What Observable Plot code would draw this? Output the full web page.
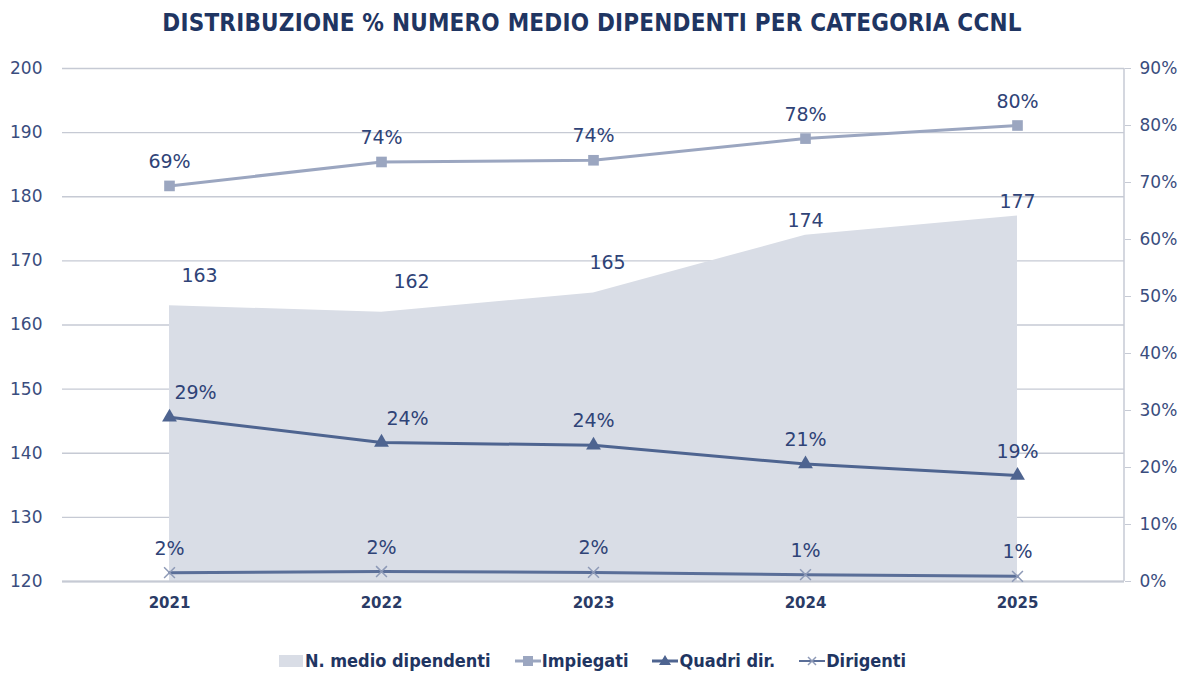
<!DOCTYPE html>
<html><head><meta charset="utf-8">
<script src="https://cdn.jsdelivr.net/npm/d3@7"></script>
<script src="https://cdn.jsdelivr.net/npm/@observablehq/plot@0.6"></script>
<style>
body{margin:0;background:#fff;width:1184px;height:673px;overflow:hidden;font-family:"DejaVu Sans",sans-serif;position:relative}
#title{height:48px;line-height:46px;text-align:center;font-family:"DejaVu Sans Condensed","Liberation Sans Narrow",sans-serif;font-weight:bold;font-size:24px;color:#1f3562;letter-spacing:0.2px}
#chart{height:592px}
#legend{position:absolute;top:650px;left:0;width:1184px;display:flex;justify-content:center;gap:24px;font-family:"DejaVu Sans Condensed","Liberation Sans Narrow",sans-serif;font-size:18px;font-weight:600;color:#1f3562;align-items:center}
.item{display:flex;align-items:center}
.item svg{margin-right:1px}
</style></head>
<body>
<div id="title">DISTRIBUZIONE % NUMERO MEDIO DIPENDENTI PER CATEGORIA CCNL</div>
<div id="chart"></div>
<div id="legend"></div>
<script>
const years = ["2021", "2022", "2023", "2024", "2025"];
const dipendenti = [163, 162, 165, 174, 177];
const impiegati = [69.4, 73.6, 73.9, 77.7, 80.0];
const quadri = [28.8, 24.4, 23.9, 20.6, 18.6];
const dirigenti = [1.55, 1.75, 1.6, 1.2, 0.9];
const leftTicks = [120, 130, 140, 150, 160, 170, 180, 190, 200];
const pctTicks = [0, 10, 20, 30, 40, 50, 60, 70, 80, 90];
const seriesNames = ["N. medio dipendenti", "Impiegati", "Quadri dir.", "Dirigenti"];

const cArea = "#d9dde6", cImp = "#9ba6c0", cQua = "#4e6490", cDir = "#5a6e98", cDirM = "#8e9ab7";
const cText = "#2f4377", cGrid = "#c6cad4", cTick = "#3a4d7e";

const rows = years.map((y, i) => ({year: y, dip: dipendenti[i], imp: impiegati[i], qua: quadri[i], dir: dirigenti[i]}));
const toLeft = p => 120 + p * 80 / 90;
const fromLeft = v => Math.round((v - 120) * 90 / 80);
const pct = v => Math.round(v) + "%";

const rightLine = (index, scales, values, dims) => {
  const x = dims.width - dims.marginRight;
  const l = document.createElementNS("http://www.w3.org/2000/svg", "line");
  l.setAttribute("x1", x); l.setAttribute("x2", x);
  l.setAttribute("y1", dims.marginTop); l.setAttribute("y2", dims.height - dims.marginBottom);
  l.setAttribute("stroke", cGrid); l.setAttribute("stroke-width", 1.5);
  return l;
};

const lbl = {fill: cText, fontSize: 19, fontWeight: 400};

const chart = Plot.plot({
  width: 1184, height: 592,
  marginLeft: 62, marginRight: 60, marginTop: 20, marginBottom: 59,
  x: {type: "point", domain: years, padding: 0.5, label: null},
  y: {domain: [120, 200], label: null},
  style: {fontFamily: "DejaVu Sans, sans-serif", fontSize: "17px", color: cTick, background: "white", overflow: "visible"},
  marks: [
    Plot.gridY(leftTicks, {stroke: cGrid, strokeOpacity: 1, strokeWidth: 1.3}),
    Plot.areaY(rows, {x: "year", y1: 120, y2: "dip", fill: cArea}),
    Plot.ruleY([120], {stroke: cGrid, strokeWidth: 2}),
    rightLine,
    Plot.axisY({ticks: leftTicks, tickSize: 0, tickPadding: 20, fill: cTick, fontSize: 17, fontWeight: 400, label: null}),
    Plot.axisY(pctTicks.map(toLeft), {anchor: "right", tickSize: 6, tickPadding: 9, stroke: cGrid, tickFormat: v => fromLeft(v) + "%", fill: cTick, fontSize: 17, fontWeight: 400, label: null}),
    Plot.axisX({tickSize: 0, tickPadding: 16, fontSize: 15, fontWeight: 600, fill: "#2a3b66", label: null}),
    // series
    Plot.line(rows, {x: "year", y: d => toLeft(d.dir), stroke: cDir, strokeWidth: 3}),
    Plot.dot(rows, {x: "year", y: d => toLeft(d.dir), symbol: "times", r: 5, stroke: cDirM, strokeWidth: 1.5}),
    Plot.line(rows, {x: "year", y: d => toLeft(d.qua), stroke: cQua, strokeWidth: 3}),
    Plot.dot(rows, {x: "year", y: d => toLeft(d.qua), symbol: "triangle", r: 5.5, fill: cQua, stroke: null}),
    Plot.line(rows, {x: "year", y: d => toLeft(d.imp), stroke: cImp, strokeWidth: 3}),
    Plot.dot(rows, {x: "year", y: d => toLeft(d.imp), symbol: "square", r: 6, fill: cImp, stroke: null}),
    // labels
    Plot.text(rows, {x: "year", y: d => toLeft(d.imp), text: d => pct(d.imp), dy: -24, ...lbl}),
    Plot.text(rows.slice(0, 2), {x: "year", y: d => toLeft(d.qua), text: d => pct(d.qua), dy: -24, dx: 26, ...lbl}),
    Plot.text(rows.slice(2), {x: "year", y: d => toLeft(d.qua), text: d => pct(d.qua), dy: -24, ...lbl}),
    Plot.text(rows, {x: "year", y: d => toLeft(d.dir), text: d => pct(d.dir), dy: -24, ...lbl}),
    Plot.text(rows.slice(0, 2), {x: "year", y: "dip", text: d => String(d.dip), dy: -30, dx: 30, ...lbl}),
    Plot.text(rows.slice(2, 3), {x: "year", y: "dip", text: d => String(d.dip), dy: -30, dx: 14, ...lbl}),
    Plot.text(rows.slice(3), {x: "year", y: "dip", text: d => String(d.dip), dy: -14, dx: 0, ...lbl})
  ]
});
document.getElementById("chart").append(chart);

// legend
const sw = [
  `<svg width="26" height="16"><rect x="1" y="2" width="24" height="12" fill="${cArea}"/></svg>`,
  `<svg width="26" height="16"><line x1="0" x2="26" y1="8" y2="8" stroke="${cImp}" stroke-width="3"/><rect x="8" y="3" width="10" height="10" fill="${cImp}"/></svg>`,
  `<svg width="26" height="16"><line x1="0" x2="26" y1="8" y2="8" stroke="${cQua}" stroke-width="3"/><path d="M13,2 L19,12 L7,12 Z" fill="${cQua}"/></svg>`,
  `<svg width="26" height="16"><line x1="0" x2="26" y1="8" y2="8" stroke="${cDir}" stroke-width="2"/><path d="M9,4 L17,12 M17,4 L9,12" stroke="${cDirM}" stroke-width="1.5"/></svg>`
];
document.getElementById("legend").innerHTML = seriesNames.map((n, i) => `<div class="item">${sw[i]}<span>${n}</span></div>`).join("");
</script>
</body></html>
